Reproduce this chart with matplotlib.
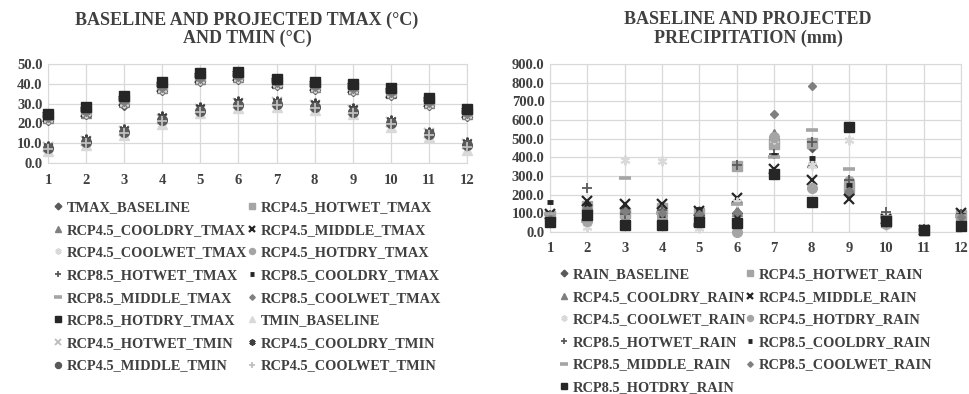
import matplotlib
matplotlib.use("Agg")
import matplotlib.pyplot as plt

plt.rcParams['font.family'] = ['Liberation Serif', 'DejaVu Serif']
plt.rcParams['font.weight'] = 'bold'

months = list(range(1, 13))

# monthly temperature (°C)
tmax_baseline = [21.5, 24.5, 29.5, 37.0, 41.5, 42.5, 39.5, 37.5, 36.5, 34.5, 29.5, 23.5]
rcp45_hotwet_tmax = [23.0, 26.5, 32.0, 39.0, 43.5, 44.5, 41.0, 39.5, 38.5, 36.0, 31.5, 25.5]
rcp45_cooldry_tmax = [22.5, 25.5, 31.0, 38.0, 42.5, 43.5, 40.5, 38.5, 37.5, 35.5, 30.5, 24.5]
rcp45_middle_tmax = [23.0, 26.0, 31.5, 38.5, 43.0, 44.0, 40.5, 39.0, 38.0, 35.5, 31.0, 25.0]
rcp45_coolwet_tmax = [22.0, 25.0, 30.5, 37.5, 42.0, 43.0, 40.0, 38.0, 37.0, 35.0, 30.0, 24.0]
rcp45_hotdry_tmax = [23.5, 27.0, 32.5, 39.5, 44.0, 44.5, 41.5, 39.5, 38.5, 36.5, 32.0, 26.0]
rcp85_hotwet_tmax = [24.0, 27.5, 33.0, 40.0, 44.5, 45.0, 41.5, 40.0, 39.0, 37.0, 32.5, 26.5]
rcp85_cooldry_tmax = [23.0, 26.0, 31.5, 38.5, 43.0, 44.0, 41.0, 39.0, 38.0, 36.0, 31.0, 25.0]
rcp85_middle_tmax = [23.5, 27.0, 32.5, 39.5, 44.0, 44.5, 41.5, 39.5, 38.5, 36.5, 32.0, 26.0]
rcp85_coolwet_tmax = [22.5, 26.0, 31.0, 38.0, 42.5, 43.5, 40.5, 38.5, 37.5, 35.5, 30.5, 24.5]
rcp85_hotdry_tmax = [24.7, 28.1, 34.0, 40.9, 45.3, 45.8, 42.4, 40.9, 39.7, 37.7, 33.0, 27.4]
tmin_baseline = [6.0, 9.0, 14.0, 19.5, 25.0, 28.0, 28.5, 27.0, 24.5, 18.0, 13.0, 6.5]
rcp45_hotwet_tmin = [8.0, 11.0, 16.0, 22.0, 27.5, 30.5, 31.0, 29.5, 27.0, 20.5, 15.0, 9.5]
rcp45_cooldry_tmin = [8.5, 12.0, 17.0, 23.5, 28.5, 31.5, 31.5, 30.5, 28.0, 21.5, 15.5, 10.5]
rcp45_middle_tmin = [7.5, 10.5, 15.5, 21.5, 26.5, 29.5, 30.0, 28.5, 26.0, 20.0, 14.5, 9.0]
rcp45_coolwet_tmin = [7.0, 10.0, 15.0, 21.0, 26.0, 29.0, 29.5, 28.0, 25.5, 19.5, 14.0, 8.0]

# monthly precipitation (mm)
rain_baseline = [75, 130, 125, 125, 105, 100, 480, 455, 215, 60, 10, 80]
rcp45_hotwet_rain = [85, 140, 100, 130, 100, 355, 470, 475, 240, 65, 12, 90]
rcp45_cooldry_rain = [80, 145, 135, 110, 115, 110, 525, 375, 230, 55, 10, 85]
rcp45_middle_rain = [98, 166, 152, 152, 110, 184, 335, 277, 175, 70, 12, 102]
rcp45_coolwet_rain = [85, 27, 388, 379, 20, 160, 500, 360, 495, 40, 8, 70]
rcp45_hotdry_rain = [80, 57, 85, 75, 60, 0, 510, 233, 275, 45, 10, 75]
rcp85_hotwet_rain = [90, 238, 95, 120, 90, 358, 420, 483, 280, 108, 14, 95]
rcp85_cooldry_rain = [161, 150, 130, 90, 125, 85, 415, 394, 250, 75, 12, 90]
rcp85_middle_rain = [95, 60, 290, 100, 40, 150, 400, 546, 335, 80, 10, 85]
rcp85_coolwet_rain = [70, 120, 110, 100, 95, 105, 630, 782, 220, 50, 10, 80]
rcp85_hotdry_rain = [54, 89, 39, 36, 54, 50, 308, 161, 560, 57, 13, 32]

TXT = '#404040'
GRID = '#d9d9d9'

# marker styles: (marker, size, color, edge width)
styles = [
    ('D', 5.5, '#595959', 1.0),   # baseline
    ('s', 6.5, '#a5a5a5', 1.0),   # 4.5 hotwet
    ('^', 7.0, '#7f7f7f', 1.0),   # 4.5 cooldry
    ('x', 6.5, '#262626', 1.6),   # 4.5 middle
    ((6, 2, 0), 7.0, '#d9d9d9', 1.4),  # 4.5 coolwet
    ('o', 7.0, '#a5a5a5', 1.0),   # 4.5 hotdry
    ('+', 7.5, '#595959', 1.3),   # 8.5 hotwet
    ('_', 5.0, '#262626', 3.5),   # 8.5 cooldry
    ('_', 8.5, '#a5a5a5', 2.6),   # 8.5 middle
    ('D', 4.5, '#7f7f7f', 1.0),   # 8.5 coolwet
    ('s', 7.5, '#262626', 1.0),   # 8.5 hotdry
    ('^', 7.0, '#d9d9d9', 1.0),   # tmin baseline
    ('x', 6.5, '#bfbfbf', 1.4),   # 4.5 hotwet tmin
    ((6, 2, 0), 7.0, '#404040', 1.4),  # 4.5 cooldry tmin
    ('o', 7.0, '#595959', 1.0),   # 4.5 middle tmin
    ('+', 7.5, '#bfbfbf', 1.3),   # 4.5 coolwet tmin
]

temp_series = [
    ('TMAX_BASELINE', tmax_baseline),
    ('RCP4.5_HOTWET_TMAX', rcp45_hotwet_tmax),
    ('RCP4.5_COOLDRY_TMAX', rcp45_cooldry_tmax),
    ('RCP4.5_MIDDLE_TMAX', rcp45_middle_tmax),
    ('RCP4.5_COOLWET_TMAX', rcp45_coolwet_tmax),
    ('RCP4.5_HOTDRY_TMAX', rcp45_hotdry_tmax),
    ('RCP8.5_HOTWET_TMAX', rcp85_hotwet_tmax),
    ('RCP8.5_COOLDRY_TMAX', rcp85_cooldry_tmax),
    ('RCP8.5_MIDDLE_TMAX', rcp85_middle_tmax),
    ('RCP8.5_COOLWET_TMAX', rcp85_coolwet_tmax),
    ('RCP8.5_HOTDRY_TMAX', rcp85_hotdry_tmax),
    ('TMIN_BASELINE', tmin_baseline),
    ('RCP4.5_HOTWET_TMIN', rcp45_hotwet_tmin),
    ('RCP4.5_COOLDRY_TMIN', rcp45_cooldry_tmin),
    ('RCP4.5_MIDDLE_TMIN', rcp45_middle_tmin),
    ('RCP4.5_COOLWET_TMIN', rcp45_coolwet_tmin),
]

rain_series = [
    ('RAIN_BASELINE', rain_baseline),
    ('RCP4.5_HOTWET_RAIN', rcp45_hotwet_rain),
    ('RCP4.5_COOLDRY_RAIN', rcp45_cooldry_rain),
    ('RCP4.5_MIDDLE_RAIN', rcp45_middle_rain),
    ('RCP4.5_COOLWET_RAIN', rcp45_coolwet_rain),
    ('RCP4.5_HOTDRY_RAIN', rcp45_hotdry_rain),
    ('RCP8.5_HOTWET_RAIN', rcp85_hotwet_rain),
    ('RCP8.5_COOLDRY_RAIN', rcp85_cooldry_rain),
    ('RCP8.5_MIDDLE_RAIN', rcp85_middle_rain),
    ('RCP8.5_COOLWET_RAIN', rcp85_coolwet_rain),
    ('RCP8.5_HOTDRY_RAIN', rcp85_hotdry_rain),
]


def scatter_panel(ax, series, ymax, ystep, xpad):
    handles = []
    for (label, vals), (mk, ms, col, mew) in zip(series, styles):
        h, = ax.plot(months, vals, linestyle='none', marker=mk, markersize=ms,
                     color=col, markeredgecolor=col, markeredgewidth=mew,
                     label=label, clip_on=False, zorder=3)
        handles.append(h)
    ax.set_xlim(1, 12)
    ax.set_ylim(0, ymax)
    ax.set_xticks(months)
    ax.set_yticks(range(0, ymax + 1, ystep))
    ax.set_yticklabels([f'{v:.1f}' for v in range(0, ymax + 1, ystep)])
    ax.grid(True, color=GRID, linewidth=0.9)
    ax.set_axisbelow(True)
    for sp in ax.spines.values():
        sp.set_color(GRID)
    ax.tick_params(length=0, labelsize=10.5, colors=TXT)
    ax.tick_params(axis='y', pad=4)
    ax.tick_params(axis='x', pad=xpad)
    for t in ax.get_xticklabels() + ax.get_yticklabels():
        t.set_fontweight('bold')
    return handles


def excel_legend(fig, handles, x, y):
    # rows read left-to-right, so interleave for matplotlib's column fill
    order = handles[0::2] + handles[1::2]
    leg = fig.legend(order, [h.get_label() for h in order], ncol=2,
                     loc='upper left', bbox_to_anchor=(x, y),
                     frameon=False, fontsize=10.4, borderpad=0,
                     handlelength=0.7, handletextpad=0.25,
                     columnspacing=-0.05, labelspacing=0.66,
                     borderaxespad=0, markerscale=0.62)
    for t in leg.get_texts():
        t.set_color(TXT)
        t.set_fontweight('bold')
    return leg


fig = plt.figure(figsize=(9.7, 3.94), dpi=100)

ax1 = fig.add_axes([0.0495, 0.5863, 0.432, 0.2513])
h1 = scatter_panel(ax1, temp_series, 50, 10, 8)

ax2 = fig.add_axes([0.567, 0.4112, 0.4237, 0.4264])
h2 = scatter_panel(ax2, rain_series, 900, 100, 7)

fig.text(247 / 970, 0.926, 'BASELINE AND PROJECTED TMAX (°C)\nAND TMIN (°C)',
         ha='center', va='center', fontsize=13, fontweight='bold',
         color=TXT, linespacing=1.08)
fig.text(748 / 970, 0.926, 'BASELINE AND PROJECTED\nPRECIPITATION (mm)',
         ha='center', va='center', fontsize=13, fontweight='bold',
         color=TXT, linespacing=1.08)

excel_legend(fig, h1, 0.055, 0.49)
excel_legend(fig, h2, 0.576, 0.32)

fig.savefig('out.png', dpi=100, facecolor='white')
